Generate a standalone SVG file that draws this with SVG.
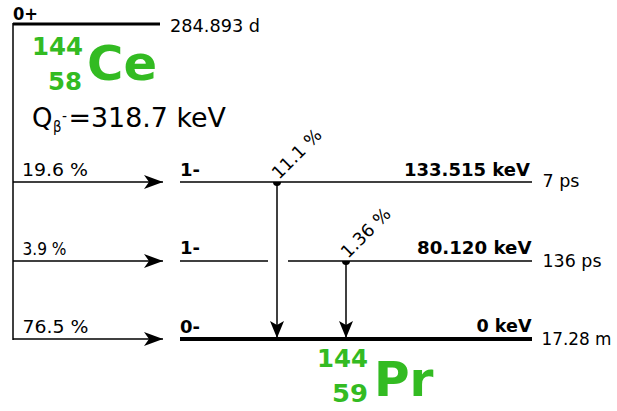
<svg xmlns="http://www.w3.org/2000/svg" width="617" height="411" viewBox="0 0 617 411">
<defs>
<style>
text{font-family:"DejaVu Sans",Verdana,sans-serif;fill:#000}
.s{font-size:17.5px}
.b{font-size:17.5px;font-weight:bold}
.g{fill:#33bb22;font-weight:bold}
.ln{stroke:#000;fill:none}
</style>
<marker id="ab" markerWidth="20" markerHeight="16" refX="19" refY="7" orient="auto" markerUnits="userSpaceOnUse" viewBox="0 0 20 14">
<path d="M0,0 L19,7 L0,14 L5,7 Z" fill="#000"/>
</marker>
<marker id="ag" markerWidth="18" markerHeight="16" refX="17" refY="7" orient="auto" markerUnits="userSpaceOnUse" viewBox="0 0 18 14">
<path d="M0,0 L17,7 L0,14 L4,7 Z" fill="#000"/>
</marker>
</defs>
<g id="parent">
<line class="ln" x1="13" y1="24" x2="160" y2="24" stroke-width="3"/>
<text class="b" x="13" y="20" textLength="25" lengthAdjust="spacingAndGlyphs">0+</text>
<text class="s" x="170" y="31.5" textLength="90" lengthAdjust="spacingAndGlyphs">284.893 d</text>
<text class="g" x="32" y="55" font-size="25" textLength="51" lengthAdjust="spacingAndGlyphs">144</text>
<text class="g" x="48" y="90" font-size="25" textLength="34" lengthAdjust="spacingAndGlyphs">58</text>
<text class="g" x="87" y="80" font-size="48" textLength="70" lengthAdjust="spacingAndGlyphs">Ce</text>
<text x="32" y="127" font-size="26">Q</text>
<text x="53" y="132" font-size="15" textLength="8.5" lengthAdjust="spacingAndGlyphs">β</text>
<text x="62" y="121" font-size="15" textLength="5" lengthAdjust="spacingAndGlyphs">-</text>
<text x="68.5" y="127" font-size="26" textLength="157.5" lengthAdjust="spacingAndGlyphs">=318.7 keV</text>
</g>
<g id="level133">
<line class="ln" x1="180" y1="182" x2="532" y2="182" stroke-width="1.5"/>
<text class="b" x="180" y="176" textLength="20" lengthAdjust="spacingAndGlyphs">1-</text>
<text class="b" x="404" y="176" textLength="126" lengthAdjust="spacingAndGlyphs">133.515 keV</text>
<text class="s" x="542.5" y="187" textLength="37" lengthAdjust="spacingAndGlyphs">7 ps</text>
</g>
<g id="level80">
<line class="ln" x1="180" y1="261" x2="268" y2="261" stroke-width="1.5"/>
<line class="ln" x1="288" y1="261" x2="532" y2="261" stroke-width="1.5"/>
<text class="b" x="180" y="254" textLength="20" lengthAdjust="spacingAndGlyphs">1-</text>
<text class="b" x="417" y="254" textLength="114.5" lengthAdjust="spacingAndGlyphs">80.120 keV</text>
<text class="s" x="542.5" y="266.5" textLength="59" lengthAdjust="spacingAndGlyphs">136 ps</text>
</g>
<g id="level0">
<line class="ln" x1="180" y1="339" x2="532" y2="339" stroke-width="4"/>
<text class="b" x="180" y="332.5" textLength="20" lengthAdjust="spacingAndGlyphs">0-</text>
<text class="b" x="476.5" y="331.5" textLength="55" lengthAdjust="spacingAndGlyphs">0 keV</text>
<text class="s" x="541.5" y="344.5" textLength="70" lengthAdjust="spacingAndGlyphs">17.28 m</text>
<text class="g" x="317" y="366.5" font-size="25" textLength="51" lengthAdjust="spacingAndGlyphs">144</text>
<text class="g" x="332" y="401.5" font-size="25" textLength="36" lengthAdjust="spacingAndGlyphs">59</text>
<text class="g" x="374" y="396" font-size="48" textLength="59.5" lengthAdjust="spacingAndGlyphs">Pr</text>
</g>
<g id="connectors">
<line class="ln" x1="13" y1="23" x2="13" y2="340" stroke-width="1.5"/>
<line class="ln" x1="13" y1="182" x2="163" y2="182" stroke-width="1.5" marker-end="url(#ab)"/>
<line class="ln" x1="13" y1="261" x2="163" y2="261" stroke-width="1.5" marker-end="url(#ab)"/>
<line class="ln" x1="13" y1="339" x2="163" y2="339" stroke-width="1.5" marker-end="url(#ab)"/>
<text class="s" x="22" y="176" textLength="66" lengthAdjust="spacingAndGlyphs">19.6 %</text>
<text class="s" x="22.5" y="254.5" textLength="44" lengthAdjust="spacingAndGlyphs">3.9 %</text>
<text class="s" x="22.5" y="333" textLength="66" lengthAdjust="spacingAndGlyphs">76.5 %</text>
<path d="M273,182 A4,4 0 0 0 281,182 Z" fill="#000"/>
<line class="ln" x1="277" y1="182" x2="277" y2="338" stroke-width="1.5" marker-end="url(#ag)"/>
<path d="M342,261 A4,4 0 0 0 350,261 Z" fill="#000"/>
<line class="ln" x1="346" y1="261" x2="346" y2="338" stroke-width="1.5" marker-end="url(#ag)"/>
<text class="s" transform="translate(279,180) rotate(-45)" textLength="62" lengthAdjust="spacingAndGlyphs">11.1 %</text>
<text class="s" transform="translate(348,259) rotate(-45)" textLength="62" lengthAdjust="spacingAndGlyphs">1.36 %</text>
</g>
</svg>
